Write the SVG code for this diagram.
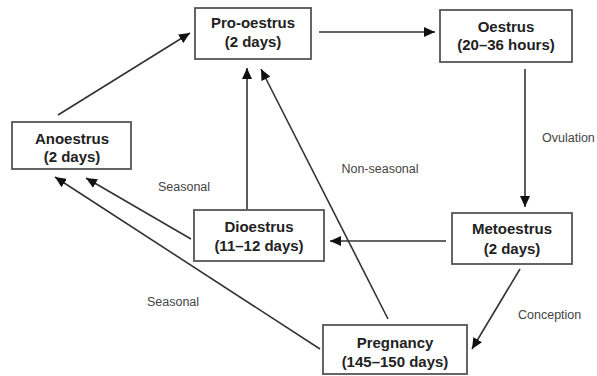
<svg xmlns="http://www.w3.org/2000/svg" width="597" height="376" viewBox="0 0 597 376">
<defs>
<style>
.box{fill:#fff;stroke:#555;stroke-width:1.8}
.t{font-family:"Liberation Sans",Arial,sans-serif;font-size:15px;font-weight:bold;fill:#222;text-anchor:middle}
.lbl{font-family:"Liberation Sans",Arial,sans-serif;font-size:12.5px;fill:#444}
.c{stroke:#333;stroke-width:1.6;fill:none;marker-end:url(#ah)}
</style>
<marker id="ah" markerUnits="userSpaceOnUse" markerWidth="12" markerHeight="10" refX="11" refY="5" orient="auto">
<path d="M0,0 L11,5 L0,10 z" fill="#111"/>
</marker>
</defs>
<rect width="597" height="376" fill="#fff"/>
<g id="connectors">
<path class="c" d="M58,115 L190,33"/>
<path class="c" d="M319,32 L435,32"/>
<path class="c" d="M525,69 L525,207"/>
<path class="c" d="M446,241 L330,241"/>
<path class="c" d="M247,209 L247,68"/>
<path class="c" d="M388,319 L261,69"/>
<path class="c" d="M520,269 L472,349"/>
<path class="c" d="M191,239 L86,178"/>
<path class="c" d="M320,349 L55,177"/>
</g>
<g id="labels">
<text class="lbl" x="184" y="191" text-anchor="middle">Seasonal</text>
<text class="lbl" x="380" y="173" text-anchor="middle">Non-seasonal</text>
<text class="lbl" x="542" y="142">Ovulation</text>
<text class="lbl" x="518" y="319">Conception</text>
<text class="lbl" x="173" y="306" text-anchor="middle">Seasonal</text>
</g>
<g id="pro-oestrus">
<rect class="box" x="195" y="8" width="116" height="51"/>
<text class="t" x="253" y="28">Pro-oestrus</text>
<text class="t" x="253" y="47">(2 days)</text>
</g>
<g id="oestrus">
<rect class="box" x="440" y="10" width="132" height="52"/>
<text class="t" x="506" y="32">Oestrus</text>
<text class="t" x="506" y="50">(20–36 hours)</text>
</g>
<g id="anoestrus">
<rect class="box" x="12" y="122" width="119" height="47"/>
<text class="t" x="72" y="144">Anoestrus</text>
<text class="t" x="72" y="162">(2 days)</text>
</g>
<g id="dioestrus">
<rect class="box" x="194" y="210" width="130" height="51"/>
<text class="t" x="259" y="232">Dioestrus</text>
<text class="t" x="259" y="251">(11–12 days)</text>
</g>
<g id="metoestrus">
<rect class="box" x="452" y="213" width="120" height="51"/>
<text class="t" x="512" y="234">Metoestrus</text>
<text class="t" x="512" y="254">(2 days)</text>
</g>
<g id="pregnancy">
<rect class="box" x="323" y="325" width="144" height="49"/>
<text class="t" x="395" y="348">Pregnancy</text>
<text class="t" x="395" y="367">(145–150 days)</text>
</g>
</svg>
